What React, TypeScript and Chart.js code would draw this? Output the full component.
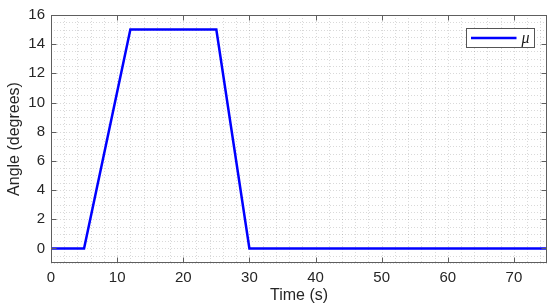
import React, { useEffect, useRef } from "react";
import { Chart, registerables } from "chart.js";

Chart.register(...registerables);

const timeValues = [0, 5, 12, 25, 30, 75];
const angleValues = [0, 0, 15, 15, 0, 0];
const xTicks = [0, 10, 20, 30, 40, 50, 60, 70];
const yTicks = [0, 2, 4, 6, 8, 10, 12, 14, 16];
const xMinorStep = 2;
const yMinorStep = 0.5;
const seriesLabel = "μ";
const xTitle = "Time (s)";
const yTitle = "Angle (degrees)";

const matlabPlugin = {
  id: "matlabAxes",
  beforeDatasetsDraw(chart: any) {
    const { ctx, chartArea: a, scales } = chart;
    const xs = scales.x, ys = scales.y;
    ctx.save();
    ctx.strokeStyle = "rgba(0,0,0,0.15)";
    ctx.lineWidth = 1;
    ctx.setLineDash([1, 2]);
    for (let v = xs.min; v <= xs.max + 1e-9; v += xMinorStep) {
      const px = Math.round(xs.getPixelForValue(v)) + 0.5;
      ctx.beginPath();
      ctx.moveTo(px, a.top);
      ctx.lineTo(px, a.bottom);
      ctx.stroke();
    }
    for (let v = ys.min; v <= ys.max + 1e-9; v += yMinorStep) {
      const py = Math.round(ys.getPixelForValue(v)) + 0.5;
      ctx.beginPath();
      ctx.moveTo(a.left, py);
      ctx.lineTo(a.right, py);
      ctx.stroke();
    }
    ctx.restore();
  },
  afterDatasetsDraw(chart: any) {
    const { ctx, chartArea: a, scales } = chart;
    const xs = scales.x, ys = scales.y;
    ctx.save();
    ctx.setLineDash([]);
    ctx.strokeStyle = "#5e5e5e";
    ctx.lineWidth = 1;
    const L = Math.round(a.left) + 0.5, R = Math.round(a.right) - 0.5;
    const T = Math.round(a.top) + 0.5, B = Math.round(a.bottom) - 0.5;
    ctx.strokeRect(L, T, R - L, B - T);
    const tl = 5;
    ctx.beginPath();
    xTicks.forEach((v) => {
      const px = Math.round(xs.getPixelForValue(v)) + 0.5;
      ctx.moveTo(px, B); ctx.lineTo(px, B - tl);
      ctx.moveTo(px, T); ctx.lineTo(px, T + tl);
    });
    yTicks.forEach((v) => {
      const py = Math.round(ys.getPixelForValue(v)) + 0.5;
      ctx.moveTo(L, py); ctx.lineTo(L + tl, py);
      ctx.moveTo(R, py); ctx.lineTo(R - tl, py);
    });
    ctx.stroke();

    // legend
    const bw = 68, bh = 19;
    const bx = Math.round(a.right - 13 - bw) + 0.5;
    const by = Math.round(a.top + 13) + 0.5;
    ctx.fillStyle = "#ffffff";
    ctx.fillRect(bx, by, bw, bh);
    ctx.strokeStyle = "#555555";
    ctx.strokeRect(bx, by, bw, bh);
    ctx.strokeStyle = "#0000ff";
    ctx.lineWidth = 2.5;
    ctx.beginPath();
    ctx.moveTo(bx + 4.5, by + bh / 2);
    ctx.lineTo(bx + 50, by + bh / 2);
    ctx.stroke();
    ctx.fillStyle = "#1a1a1a";
    ctx.font = "italic 16px 'Liberation Serif'";
    ctx.textBaseline = "middle";
    ctx.textAlign = "left";
    ctx.fillText(seriesLabel, bx + 55, by + bh / 2 + 1);
    ctx.restore();
  },
};

export default function App() {
  const ref = useRef<HTMLCanvasElement>(null);
  useEffect(() => {
    document.body.style.margin = "0";
    const chart = new Chart(ref.current!, {
      type: "scatter",
      data: {
        datasets: [
          {
            label: seriesLabel,
            data: timeValues.map((t, i) => ({ x: t, y: angleValues[i] })),
            showLine: true,
            borderColor: "#0000ff",
            backgroundColor: "#0000ff",
            borderWidth: 2.5,
            pointRadius: 0,
            tension: 0,
          },
        ],
      },
      options: {
        animation: false,
        responsive: false,
        layout: { padding: { top: 15, right: 3, left: 0, bottom: 0 } },
        plugins: { legend: { display: false }, tooltip: { enabled: false } },
        scales: {
          x: {
            type: "linear",
            min: 0,
            max: 75,
            afterBuildTicks: (s: any) => { s.ticks = xTicks.map((v) => ({ value: v })); },
            afterFit: (s: any) => { s.height = 45; },
            grid: { display: false, drawTicks: false },
            border: { display: false },
            ticks: {
              padding: 6,
              color: "#262626",
              font: { family: "'Liberation Sans', Arial", size: 15 },
              maxRotation: 0,
              autoSkip: false,
            },
            title: {
              display: true,
              text: xTitle,
              color: "#262626",
              font: { family: "'Liberation Sans', Arial", size: 16 },
              padding: { top: 0, bottom: 3 },
            },
          },
          y: {
            type: "linear",
            min: -1,
            max: 16,
            afterBuildTicks: (s: any) => { s.ticks = yTicks.map((v) => ({ value: v })); },
            afterFit: (s: any) => { s.width = 51; },
            grid: { display: false, drawTicks: false },
            border: { display: false },
            ticks: {
              padding: 6,
              color: "#262626",
              font: { family: "'Liberation Sans', Arial", size: 15 },
              autoSkip: false,
            },
            title: {
              display: true,
              text: yTitle,
              color: "#262626",
              font: { family: "'Liberation Sans', Arial", size: 16 },
              padding: { top: 5, bottom: 0 },
            },
          },
        },
      },
      plugins: [matlabPlugin],
    });
    return () => chart.destroy();
  }, []);
  return <canvas ref={ref} width={550} height={308} style={{ display: "block" }} />;
}
